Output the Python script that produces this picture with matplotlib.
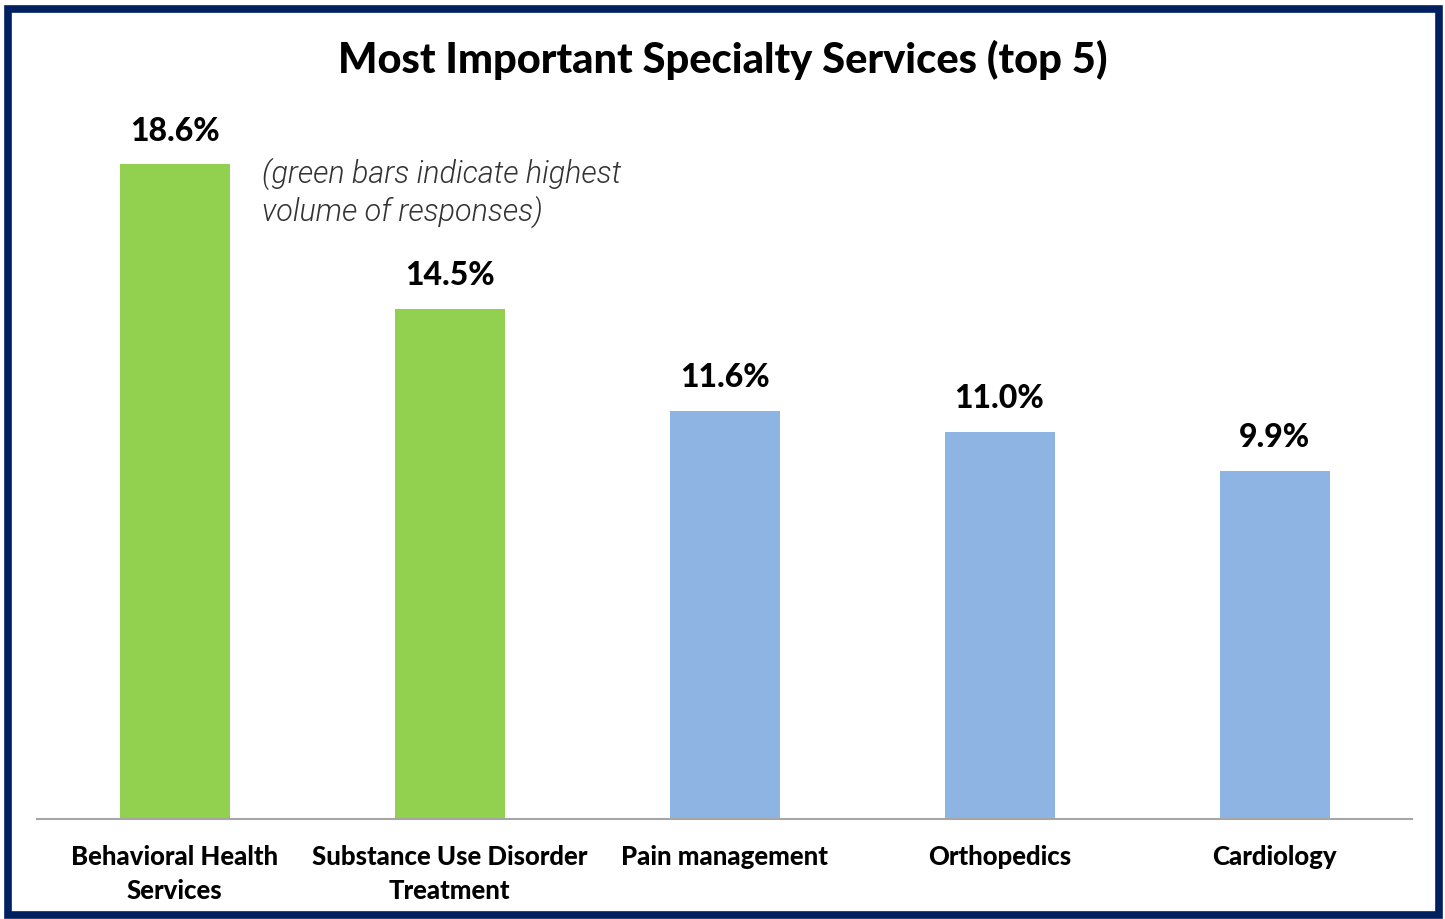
import matplotlib
matplotlib.use("Agg")
import matplotlib.pyplot as plt
from matplotlib.patches import Rectangle

categories = ["Behavioral Health\nServices", "Substance Use Disorder\nTreatment",
              "Pain management", "Orthopedics", "Cardiology"]
values = [18.6, 14.5, 11.6, 11.0, 9.9]
highlight = [True, True, False, False, False]

GREEN = "#92D050"
BLUE = "#8EB4E3"
NAVY = "#002060"

fig = plt.figure(figsize=(14.45, 9.2), dpi=100)
ax = fig.add_axes([37 / 1445, 1 - 820 / 920, 1375 / 1445, 700 / 920])

colors = [GREEN if h else BLUE for h in highlight]
x = list(range(len(values)))
bars = ax.bar(x, values, width=0.40, color=colors, zorder=2)

ax.set_xlim(-0.5, len(values) - 0.5)
ax.set_ylim(0, 19.89)

for rect, v in zip(bars, values):
    ax.annotate(f"{v:.1f}%", (rect.get_x() + rect.get_width() / 2, v),
                xytext=(0, 14), textcoords="offset points",
                ha="center", va="bottom", fontsize=23, fontweight=900,
                family="Lato", color="black")

ax.set_xticks(x)
ax.set_xticklabels(categories, fontsize=18.5, fontweight=900, family="Lato",
                   linespacing=1.5, va="top")
ax.tick_params(axis="x", length=0, pad=18)
ax.set_yticks([])

for side in ("left", "right", "top"):
    ax.spines[side].set_visible(False)
ax.spines["bottom"].set_color("#A6A6A6")
ax.spines["bottom"].set_linewidth(1.5)

fig.text(0.5, 1 - 60 / 920, "Most Important Specialty Services (top 5)",
         ha="center", va="center", fontsize=30, fontweight=900,
         family="Lato", color="black")

fig.text(262 / 1445, 1 - 193 / 920,
         "(green bars indicate highest\nvolume of responses)",
         ha="left", va="center", fontsize=22, style="italic", fontweight=300,
         family=["Roboto", "DejaVu Sans"], color="#333333",
         linespacing=1.25)

# dark frame around the whole figure
fig.patches.append(Rectangle((8 / 1445, 4 / 920), 1431 / 1445, 906 / 920,
                             transform=fig.transFigure, fill=False,
                             edgecolor=NAVY, linewidth=5.5, zorder=10))

fig.savefig("out.png", dpi=100)
